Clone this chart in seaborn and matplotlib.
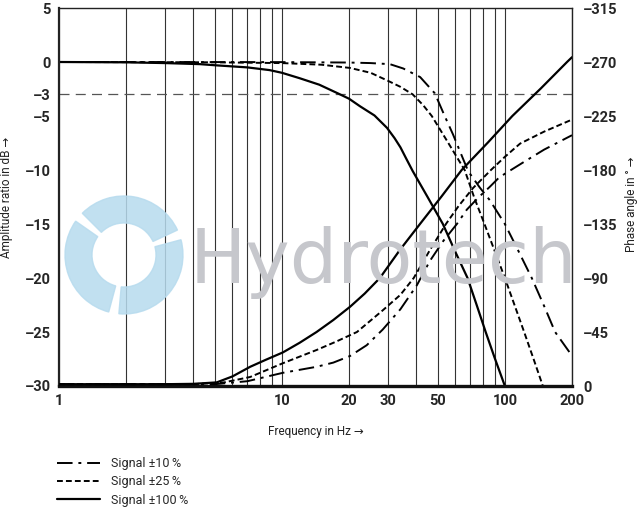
import matplotlib
matplotlib.use("Agg")
import matplotlib.pyplot as plt
import seaborn as sns
import numpy as np
from matplotlib.ticker import FixedLocator, FixedFormatter, NullFormatter
from matplotlib.lines import Line2D
from matplotlib.patches import Wedge
from matplotlib.transforms import IdentityTransform

# amplitude ratio in dB
amp_f_10 = [1, 10, 20, 25, 30.5, 35, 41.7, 48.5, 53.7, 58.5, 68.4, 77, 85.6, 100, 115, 132, 150, 168, 200]
amp_db_10 = [0, -0.01, -0.05, -0.1, -0.2, -0.6, -1.4, -2.9, -5.0, -6.7, -10.1, -11.6, -12.8, -15.0, -17.5, -20.0, -22.6, -25.0, -27.2]

amp_f_25 = [1, 5, 10, 15, 20.2, 25, 29.6, 34, 38.6, 43, 47, 55, 66, 73, 81, 90, 100, 110, 122, 135, 148]
amp_db_25 = [0, -0.03, -0.1, -0.25, -0.55, -1.0, -1.7, -2.3, -3.0, -4.0, -5.0, -7.3, -10.0, -12.6, -15.0, -17.5, -20.0, -22.4, -25.0, -27.6, -30.0]

amp_f_100 = [1, 2, 3, 4.3, 5, 7, 8.8, 10, 12, 14.7, 17.8, 20, 22.4, 26, 29.6, 32, 34, 36, 38.6, 45, 52.7, 60, 68, 75, 82, 90, 100]
amp_db_100 = [0, -0.03, -0.1, -0.2, -0.3, -0.5, -0.75, -1.0, -1.5, -2.1, -2.9, -3.4, -4.1, -4.95, -6.1, -7.05, -7.9, -8.9, -10.1, -12.5, -15.0, -17.6, -20.0, -22.6, -25.0, -27.4, -30.0]

# phase angle in degrees
ph_f_10 = [1, 5, 7, 10.1, 14.3, 17, 20.2, 24, 28.3, 34, 40.3, 46, 53, 60.9, 67.5, 76, 85.6, 94.5, 120, 150, 200]
ph_deg_10 = [-1.5, -1.5, -4, -11, -16, -19.5, -25, -34, -47, -64, -84, -104, -121, -135, -147, -157, -166, -174, -186, -197, -209]

ph_f_25 = [1, 4, 5.5, 7.2, 10.1, 14.3, 17.5, 21.7, 28.3, 34, 39, 46, 54.4, 62, 72, 86.6, 100, 117, 150, 200]
ph_deg_25 = [-1.5, -1.5, -3, -7.5, -19, -30, -37, -45, -63, -76, -90, -113, -135, -150, -165, -180, -191, -202, -212, -222]

ph_f_100 = [1, 3, 4, 5.1, 6, 7.2, 8.5, 10.1, 12, 14.3, 17, 20.2, 23.5, 27.5, 34, 41.6, 52, 64, 84, 108, 145, 190, 200]
ph_deg_100 = [-1.5, -1.5, -1.8, -3, -8, -16, -22, -28, -36, -45, -55, -66, -77, -90, -114, -135, -158, -180, -203, -225, -248, -270, -274]

legend_labels = ["Signal \u00b110\u2009%", "Signal \u00b125\u2009%", "Signal \u00b1100\u2009%"]
x_ticks = [1, 10, 20, 30, 50, 100, 200]
x_grid = [1, 2, 3, 4, 5, 6, 7, 8, 9, 10, 20, 30, 40, 50, 60, 70, 80, 90, 100, 200]
y_ticks = [5, 0, -3, -5, -10, -15, -20, -25, -30]
y_grid = [5, 0, -5, -10, -15, -20, -25, -30]
ph_ticks = [0, -45, -90, -135, -180, -225, -270, -315]

sns.set_style("white")
plt.rcParams["font.family"] = ["Roboto", "DejaVu Sans"]

dashdot = (0, (8, 3, 1.5, 3))
shortdash = (0, (3, 1.6))


def minus_fmt(vals):
    return ["\u2013" + str(-v) if v < 0 else str(v) for v in vals]


fig = plt.figure(figsize=(6.39, 5.07), dpi=100)
ax = fig.add_axes([59 / 639, 1 - 386 / 507, (572 - 59) / 639, (386 - 8) / 507])

# watermark logo + text
for t1, t2 in [(25, 135), (145, 255), (265, 375)]:
    w = Wedge((124, 252), 59, t1, t2, width=27, transform=IdentityTransform(),
              color="#b7dbee", alpha=0.85, zorder=0)
    fig.patches.append(w)
fig.text(190 / 639, 1 - 283 / 507, "Hydrotech", fontsize=54, color="#c6c7cc",
         family="DejaVu Sans", va="baseline", zorder=0.5)

ax.set_xscale("log")
ax.set_xlim(1, 200)
ax.set_ylim(-30, 5)
ax.set_facecolor("none")

ax.xaxis.set_major_locator(FixedLocator(x_ticks))
ax.xaxis.set_major_formatter(FixedFormatter([str(v) for v in x_ticks]))
ax.xaxis.set_minor_locator(FixedLocator(x_grid))
ax.xaxis.set_minor_formatter(NullFormatter())
ax.yaxis.set_major_locator(FixedLocator(y_ticks))
ax.yaxis.set_major_formatter(FixedFormatter(minus_fmt(y_ticks)))
ax.yaxis.set_minor_locator(FixedLocator(y_grid))

ax.grid(False)
ax.xaxis.grid(True, which="both", color="#333333", linewidth=0.8)
ax.yaxis.grid(True, which="minor", color="#333333", linewidth=0.8)
ax.axhline(-3, color="#555555", linewidth=0.9, linestyle=(0, (8, 5)), zorder=1)

ax.tick_params(which="both", length=0, labelsize=10.5, pad=6)
for lab in ax.get_xticklabels() + ax.get_yticklabels():
    lab.set_fontweight("bold")

sns.lineplot(x=amp_f_10, y=amp_db_10, ax=ax, color="black", linewidth=1.4, linestyle=dashdot, sort=False)
sns.lineplot(x=amp_f_25, y=amp_db_25, ax=ax, color="black", linewidth=1.4, linestyle=shortdash, sort=False)
sns.lineplot(x=amp_f_100, y=amp_db_100, ax=ax, color="black", linewidth=1.6, sort=False)

for side in ["left", "top", "right"]:
    ax.spines[side].set_color("#222222")
    ax.spines[side].set_linewidth(1.0)
ax.spines["left"].set_linewidth(1.6)
ax.spines["bottom"].set_color("#111111")
ax.spines["bottom"].set_linewidth(2.4)

ax2 = ax.twinx()
ax2.set_ylim(0, -315)
ax2.yaxis.set_major_locator(FixedLocator(ph_ticks))
ax2.yaxis.set_major_formatter(FixedFormatter(minus_fmt(ph_ticks)))
ax2.grid(False)
ax2.tick_params(length=0, labelsize=10.5, pad=8)
for lab in ax2.get_yticklabels():
    lab.set_fontweight("bold")
for side in ax2.spines:
    ax2.spines[side].set_visible(False)

sns.lineplot(x=ph_f_10, y=ph_deg_10, ax=ax2, color="black", linewidth=1.4, linestyle=dashdot, sort=False)
sns.lineplot(x=ph_f_25, y=ph_deg_25, ax=ax2, color="black", linewidth=1.4, linestyle=shortdash, sort=False)
sns.lineplot(x=ph_f_100, y=ph_deg_100, ax=ax2, color="black", linewidth=1.6, sort=False)
ax2.set_xlim(1, 200)

# axis titles
fig.text(316 / 639, 1 - 431 / 507, "Frequency in Hz \u2192", fontsize=8.5, color="#222222",
         ha="center", va="center")
fig.text(7 / 639, 1 - 197 / 507, "Amplitude ratio in dB \u2192", fontsize=8.5, color="#222222",
         ha="center", va="center", rotation=90)
fig.text(632 / 639, 1 - 204 / 507, "Phase angle in \u00b0 \u2192", fontsize=8.5, color="#222222",
         ha="center", va="center", rotation=90)

handles = [Line2D([], [], color="black", linewidth=1.4, linestyle=dashdot),
           Line2D([], [], color="black", linewidth=1.4, linestyle=shortdash),
           Line2D([], [], color="black", linewidth=1.6)]
fig.legend(handles, legend_labels, loc="upper left", bbox_to_anchor=(46 / 639, 1 - 446 / 507),
           frameon=False, fontsize=9, handlelength=3.4, handletextpad=0.9, labelspacing=0.42)

fig.savefig("out.png", dpi=100)
